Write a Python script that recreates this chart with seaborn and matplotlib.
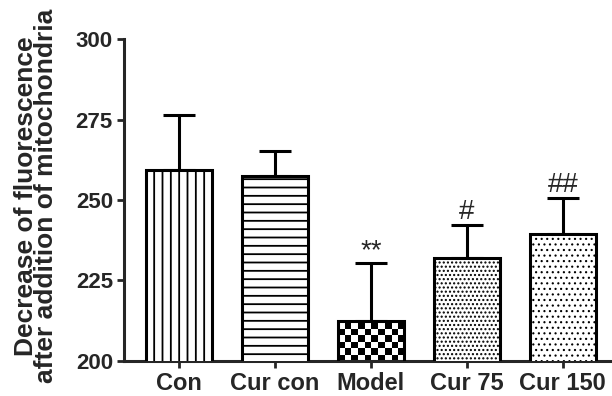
import numpy as np
import pandas as pd
import matplotlib
matplotlib.use("Agg")
import matplotlib.pyplot as plt
import seaborn as sns

categories = ["Con", "Cur con", "Model", "Cur 75", "Cur 150"]
means = [259.3, 257.5, 212.5, 231.9, 239.3]
errors = [17.1, 7.7, 18.0, 10.3, 11.2]
marks = ["", "", "**", "#", "##"]
yticks = [200, 225, 250, 275, 300]

sns.set_theme(style="ticks")
plt.rcParams["font.family"] = ["Liberation Sans", "DejaVu Sans"]
plt.rcParams["font.weight"] = "bold"
plt.rcParams["hatch.linewidth"] = 1.3
plt.rcParams["hatch.color"] = "black"

df = pd.DataFrame({"group": categories, "value": means})

fig = plt.figure(figsize=(6.12, 3.96), dpi=100)
ax = fig.add_axes([0.2026, 0.089, 0.797, 0.812])

sns.barplot(data=df, x="group", y="value", color="white", edgecolor="black",
            linewidth=2.2, width=0.69, saturation=1, ax=ax, zorder=3)

hatches = ["||", "--", None, "....", "..."]
hatch_lw = [1.3, 1.3, 1.3, 1.0, 0.8]
patches = ax.patches[:len(categories)]
for p, h, hl in zip(patches, hatches, hatch_lw):
    p.set_facecolor("white")
    p.set_edgecolor("black")
    if h:
        p.set_hatch(h)
        if hasattr(p, "set_hatch_linewidth"):
            p.set_hatch_linewidth(hl)

# checkerboard fill for the Model bar
p = patches[2]
p.set_facecolor("none")
x0, w = p.get_x(), p.get_width()
nx = 10
cell_y = 1.96
ny = 8
checker = (np.add.outer(np.arange(ny), np.arange(nx)) % 2).astype(float)
im = ax.imshow(checker, cmap="gray", vmin=0, vmax=1,
               extent=[x0, x0 + w, 200, 200 + ny * cell_y],
               origin="lower", aspect="auto", interpolation="nearest", zorder=2.5)
im.set_clip_path(p)
ax.set_xlim(-0.573, 4.51)
ax.set_ylim(200, 300)

centers = [pp.get_x() + pp.get_width() / 2 for pp in patches]
ax.errorbar(centers, means, yerr=[np.zeros(len(means)), errors], fmt="none",
            ecolor="black", elinewidth=2.2, capsize=11.5, capthick=2.2, zorder=2)

for c, m, e, t in zip(centers, means, errors, marks):
    if t:
        off = 3.5 if t.startswith("*") else 4.3
        ax.annotate(t, xy=(c, m + e), xytext=(0, off), textcoords="offset points",
                    ha="center", va="baseline", fontsize=20, fontweight="normal")

ax.set_yticks(yticks)
ax.set_xlabel("")
ax.set_ylabel("Decrease of fluorescence\nafter addition of mitochondria",
              fontsize=19, fontweight="bold", linespacing=0.82)
ax.yaxis.set_label_coords(-0.135, 0.512)
ax.tick_params(axis="both", width=2, length=5, pad=3)
ax.tick_params(axis="x", labelsize=17)
ax.tick_params(axis="y", labelsize=16)
for lab in ax.get_xticklabels() + ax.get_yticklabels():
    lab.set_fontweight("bold")
sns.despine(ax=ax)
ax.spines["left"].set_linewidth(2.2)
ax.spines["bottom"].set_linewidth(2.2)

fig.savefig("out.png", dpi=100)
